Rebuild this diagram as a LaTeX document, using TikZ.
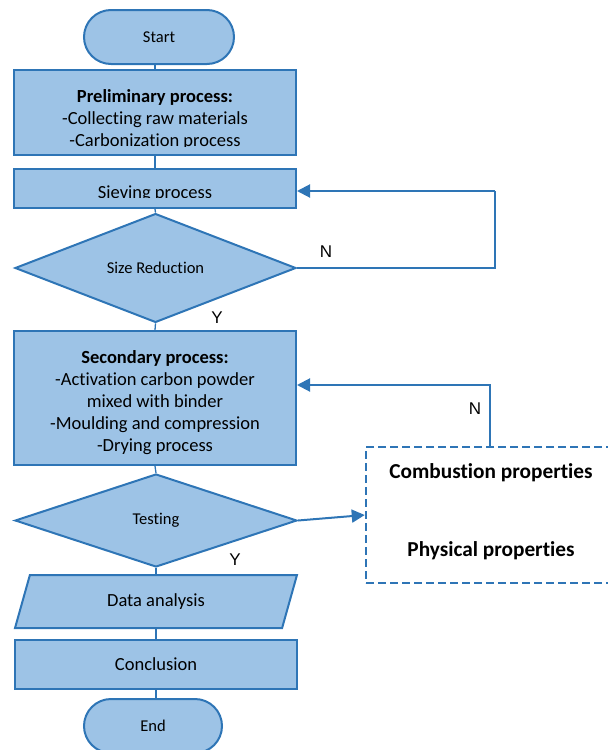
\documentclass[tikz,border=0pt]{standalone}
\usepackage{fontspec}
\setmainfont{Carlito}[Ligatures=NoCommon]
\newfontfamily\yesnofont{Liberation Sans}
\usetikzlibrary{shapes.geometric,arrows.meta}
\definecolor{boxfill}{HTML}{9DC3E6}
\definecolor{boxline}{HTML}{2E75B6}

\begin{document}
\begin{tikzpicture}[x=1pt,y=-1pt,
		block/.style={rectangle, draw=boxline, fill=boxfill, line width=2pt, minimum width=282pt, inner sep=0pt},
		term/.style={rectangle, rounded corners=27pt, draw=boxline, fill=boxfill, line width=2pt, minimum height=54pt, inner sep=0pt, font=\fontsize{16.5}{18}\selectfont},
		decide/.style={diamond, draw=boxline, fill=boxfill, line width=2pt, inner sep=0pt, font=\fontsize{16.5}{18}\selectfont},
		bigtext/.style={align=center, inner sep=0pt, font=\fontsize{18.5}{22}\selectfont},
		yesno/.style={inner sep=0pt, font=\yesnofont\fontsize{17}{18}\selectfont},
		link/.style={draw=boxline, line width=1.3pt},
		flow/.style={draw=boxline, line width=2pt, -{Triangle[length=13pt,width=13pt]}}]
		\useasboundingbox (0,0) rectangle (608,750);

		\node (start) [term, minimum width=150pt] at (159,37) {Start};
		\node (prelim) [block, minimum height=85pt] at (155,112.5) {};
		\begin{scope}
			\clip (14,70) rectangle (296,146);
			\node (prelimtext) [bigtext] at (155,119) {\textbf{Preliminary process:}\\-Collecting raw materials\\-Carbonization process};
		\end{scope}
		\node (sieve) [block, minimum height=39pt] at (155,188.5) {};
		\begin{scope}
			\clip (14,169) rectangle (296,197);
			\node (sievetext) [bigtext] at (155,194) {Sieving process};
		\end{scope}
		\node (size) [decide, minimum width=281pt, minimum height=106pt] at (155.5,268) {Size Reduction};
		\node (second) [block, minimum height=134pt] at (155,398) {};
		\node (secondtext) [bigtext, text depth=0pt] at (155,401) {\textbf{Secondary process:}\\-Activation carbon powder\\mixed with binder\\-Moulding and compression\\-Drying process};
		\node (test) [decide, minimum width=282pt, minimum height=93pt] at (156,520.5) {Testing};
		\node (data) [trapezium, trapezium left angle=70, trapezium right angle=110, trapezium stretches=true, draw=boxline, fill=boxfill, line width=2pt, inner sep=0pt, minimum width=282pt, minimum height=53pt, font=\fontsize{18.5}{22}\selectfont] at (156,601.5) {Data analysis};
		\node (concl) [block, minimum height=49pt, font=\fontsize{18.5}{22}\selectfont] at (156,664.5) {Conclusion};
		\node (end) [term, minimum width=138pt] at (153,726) {End};

		\node (props) [rectangle, draw=boxline, line width=2.5pt, dash pattern=on 8pt off 4pt, minimum width=248pt, minimum height=136pt] at (490,515) {};
		\node (combust) [bigtext, font=\fontsize{21.3}{24}\selectfont\bfseries] at (491,473) {Combustion properties};
		\node (phys) [bigtext, font=\fontsize{21.3}{24}\selectfont\bfseries] at (491,551) {Physical properties};

		\draw[link] (start.south -| prelim.north) -- (prelim.north);
		\draw[link] (prelim.south) -- (sieve.north);
		\draw[link] (sieve.south) -- (size.north);
		\draw[link] (size.south) -- (second.north);
		\draw[link] (second.south) -- (test.north);
		\draw[link] (test.south) -- (data.north -| test.south);
		\draw[link] (data.south -| concl.north) -- (concl.north);
		\draw[link] (concl.south) -- (end.north -| concl.south);

		\coordinate (loopA) at (495,191);
		\draw[link] (size.east) -| (loopA);
		\draw[flow] (loopA) -- (loopA -| sieve.east);
		\coordinate (loopB) at (490,385);
		\draw[flow] (props.north) -- (loopB) -- (loopB -| second.east);
		\draw[flow] (test.east) -- (props.west);

		\node (no1) [yesno] at (326,252) {N};
		\node (yes1) [yesno] at (217,318) {Y};
		\node (no2) [yesno] at (475,409) {N};
		\node (yes2) [yesno] at (235,560) {Y};
	\end{tikzpicture}
\end{document}
